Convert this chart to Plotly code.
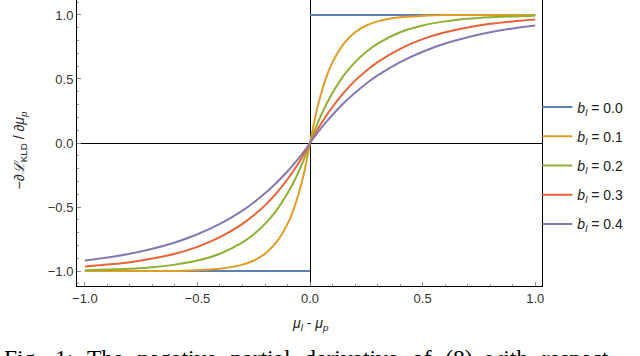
import plotly.graph_objects as go

# difference mu_l - mu_p
x_vals = [-1.0, -0.9, -0.8, -0.7, -0.6, -0.5, -0.4, -0.3, -0.25, -0.2, -0.15, -0.1, -0.075, -0.05, -0.025,
          0.0, 0.025, 0.05, 0.075, 0.1, 0.15, 0.2, 0.25, 0.3, 0.4, 0.5, 0.6, 0.7, 0.8, 0.9, 1.0]

b_labels = ["0.0", "0.1", "0.2", "0.3", "0.4"]

x_b00 = [-1.0, 0.0, None, 0.0, 1.0]
y_b00 = [-1.0, -1.0, None, 1.0, 1.0]

y_b01 = [-1.0, -1.0, -1.0, -1.0, -1.0, -0.993, -0.982, -0.950, -0.918, -0.865, -0.777, -0.632, -0.528, -0.393, -0.221,
         0.0, 0.221, 0.393, 0.528, 0.632, 0.777, 0.865, 0.918, 0.950, 0.982, 0.993, 1.0, 1.0, 1.0, 1.0, 1.0]
y_b02 = [-0.993, -0.989, -0.982, -0.970, -0.950, -0.918, -0.865, -0.777, -0.713, -0.632, -0.528, -0.393, -0.313, -0.221, -0.118,
         0.0, 0.118, 0.221, 0.313, 0.393, 0.528, 0.632, 0.713, 0.777, 0.865, 0.918, 0.950, 0.970, 0.982, 0.989, 0.993]
y_b03 = [-0.964, -0.950, -0.931, -0.903, -0.865, -0.811, -0.736, -0.632, -0.565, -0.487, -0.393, -0.283, -0.221, -0.154, -0.080,
         0.0, 0.080, 0.154, 0.221, 0.283, 0.393, 0.487, 0.565, 0.632, 0.736, 0.811, 0.865, 0.903, 0.931, 0.950, 0.964]
y_b04 = [-0.918, -0.895, -0.865, -0.826, -0.777, -0.713, -0.632, -0.528, -0.465, -0.393, -0.313, -0.221, -0.171, -0.118, -0.061,
         0.0, 0.061, 0.118, 0.171, 0.221, 0.313, 0.393, 0.465, 0.528, 0.632, 0.713, 0.777, 0.826, 0.865, 0.895, 0.918]

caption_words = ["Fig.", "1:", "The", "negative", "partial", "derivative", "of", "(8)", "with", "respect"]

colors = ["#5E81B5", "#E19C24", "#8FB032", "#EB6235", "#8778B3"]

fig = go.Figure()
series = [(x_b00, y_b00), (x_vals, y_b01), (x_vals, y_b02), (x_vals, y_b03), (x_vals, y_b04)]
for i, ((xs, ys), lab) in enumerate(zip(series, b_labels)):
    fig.add_trace(go.Scatter(
        x=xs, y=ys, mode="lines",
        line=dict(color=colors[i], width=2, shape="linear" if i == 0 else "spline", smoothing=0.6),
        name="<i>b<sub>l</sub></i> = " + lab, legendgroup=str(i),
    ))

axis_common = dict(
    showline=True, mirror=True, linecolor="black", linewidth=1,
    zeroline=True, zerolinecolor="black", zerolinewidth=1,
    showgrid=False, ticks="inside", ticklen=4, tickcolor="#888888",
    tickfont=dict(family="Liberation Sans, Arial", size=13, color="#333333"),
    tickformat=".1f", dtick=0.5, tick0=0, automargin=False,
    minor=dict(dtick=0.1, ticks="inside", ticklen=2, tickcolor="#999999", showgrid=False),
)

fig.update_xaxes(range=[-1.035, 1.03], **axis_common)
fig.update_yaxes(range=[-1.117, 1.117], **axis_common)

gap = "\u00a0\u00a0\u200a"
fig.update_layout(
    width=640, height=356,
    margin=dict(l=77, r=98, t=0, b=70, autoexpand=False),
    plot_bgcolor="white", paper_bgcolor="white",
    showlegend=True,
    legend=dict(x=0.99, y=0.68, xanchor="left", yanchor="top",
                font=dict(family="Liberation Sans, Arial", size=14, color="#222222"),
                itemwidth=30, tracegroupgap=8, bgcolor="rgba(0,0,0,0)"),
    annotations=[
        dict(text="−∂<i>ℒ</i><sub>KLD</sub> / ∂<i>μ<sub>p</sub></i>", xref="paper", yref="paper",
             x=-0.122, y=0.475, xanchor="center", yanchor="middle", textangle=-90, showarrow=False,
             font=dict(family="Liberation Sans, Arial", size=14, color="#222222")),
        dict(text="<i>μ<sub>l</sub></i> - <i>μ<sub>p</sub></i>", xref="paper", yref="paper",
             x=0.502, y=-0.095, xanchor="center", yanchor="top", showarrow=False,
             font=dict(family="Liberation Sans, Arial", size=14, color="#222222")),
        dict(text=gap.join(caption_words), xref="paper", yref="paper",
             x=-0.162, y=-0.20, xanchor="left", yanchor="top", showarrow=False,
             font=dict(family="Liberation Serif", size=23.5, color="black")),
    ],
)

fig.write_html("out.html", config={"displayModeBar": False},
               post_script="document.body.style.margin='0';")
